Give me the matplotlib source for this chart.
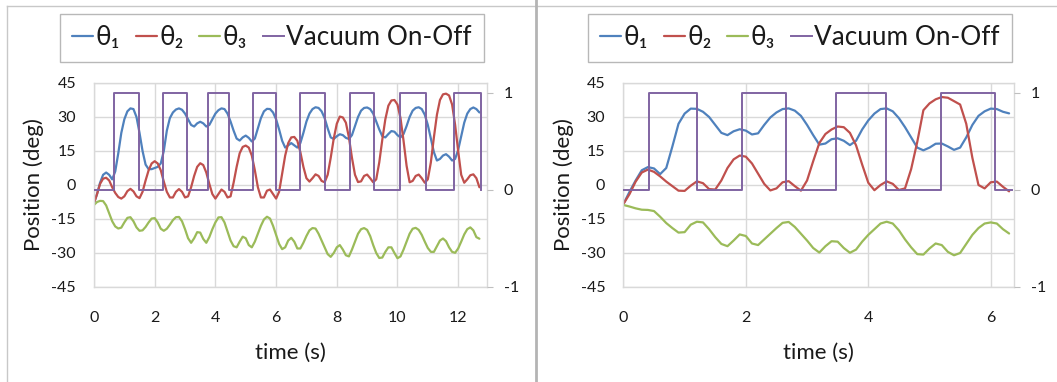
import numpy as np
import matplotlib
matplotlib.use("Agg")
import matplotlib.pyplot as plt
from matplotlib.lines import Line2D

plt.rcParams['font.family'] = ['Lato', 'Noto Sans', 'DejaVu Sans']
plt.rcParams['axes.unicode_minus'] = False

# ---------------- data: fast cycle (sampled every 0.1 s) ----------------
fast_theta1 = [
    -8, -4, 1, 4.5, 5.5, 4.5, 2.5, 6, 14, 23,
    29, 32.5, 33.8, 33.5, 30, 23, 15, 9, 7, 7,
    7.5, 8, 9.5, 15, 24, 29.5, 32, 33.3, 33.8, 33.2,
    31.5, 29, 26.5, 25.8, 27.2, 27.9, 27.2, 25.8, 26.5, 29,
    31.5, 33, 33.8, 33.5, 31.5, 28, 24, 20.5, 19.6, 21,
    21.8, 20.8, 19.2, 20.5, 25, 29.5, 32.5, 33.6, 33.5, 32,
    29, 24.5, 19.5, 16.5, 17.5, 18.5, 17.5, 16.5, 18.5, 23,
    28, 31.5, 33.5, 34.3, 34, 32.5, 29.5, 25, 21, 20.3,
    21.5, 22.4, 22, 20.8, 20.3, 22, 26, 30, 32.8, 34,
    34.2, 33.5, 31.5, 28, 24.5, 21.5, 21, 22.5, 23.8, 23.5,
    22, 21, 22.5, 26, 30, 32.8, 34, 34.3, 33.5, 31,
    26.5, 20.5, 14.5, 10.8, 11.5, 13, 13.6, 12.5, 10.8, 11.5,
    15.5, 21.5, 27.5, 31.5, 33.5, 34.2, 33.5, 32,
]
fast_theta2 = [
    -8, -4, 0.5, 2.8, 3.2, 2, -1, -3.5, -5.3, -6,
    -5, -2.7, -1.7, -2.8, -5, -5.8, -3, 2, 6.5, 9.5,
    10.5, 9.5, 6.5, 1.5, -3, -5.5, -5.5, -3, -1.8, -3,
    -5.5, -5, -1, 4, 8, 9.6, 8.8, 5.5, 0.5, -4,
    -6, -4, -2, -3, -5.5, -5, 1, 8, 14, 16.8,
    17.4, 16.5, 13, 6.5, -1, -5.5, -5.5, -2.5, -2, -4,
    -6, -3, 5, 13, 18.5, 21, 21.2, 19.5, 14.5, 8,
    3, 1.5, 3, 4.7, 4, 1.8, 1.2, 4.5, 12, 20.5,
    27, 30.2, 29.8, 27.5, 21, 12, 4.5, 1.3, 1.6, 4,
    4.6, 3, 1.2, 2.5, 10, 20, 29, 35, 37.3, 37.5,
    35.5, 29.5, 19.5, 8.5, 1.2, 1.8, 4, 4.6, 3, 1,
    2.5, 10, 21, 31, 37.5, 40, 40.3, 39.5, 35.5, 26.5,
    15, 4.5, 1, 2.5, 4.3, 4.7, 3, -1,
]
fast_theta3 = [
    -8.8, -7.5, -7, -7.1, -9, -12.5, -16, -18.3, -19.2, -18.8,
    -16.5, -14.5, -14.2, -16, -18.7, -20.2, -20, -18.5, -16.5, -14.8,
    -14.6, -16.5, -19.3, -20.2, -19.3, -17.5, -15.5, -14.2, -14.1, -16,
    -19.5, -23.5, -25.5, -23.5, -20.8, -21, -23.8, -25.5, -23, -19.5,
    -16.5, -14.3, -14.2, -16.5, -20.5, -24.5, -27, -27.5, -25, -22.8,
    -23.5, -26.5, -27.5, -25, -21.5, -18, -15.2, -14, -14.8, -18,
    -22, -26, -28.3, -27.5, -24.5, -23.3, -25, -28, -28, -25.5,
    -22.5, -20, -19, -19.2, -21.5, -24.5, -27.5, -30.5, -31.7, -30,
    -27.5, -26.5, -28.5, -31, -31.5, -28.5, -25, -21.5, -19.5, -19,
    -19.8, -22.5, -26.5, -30, -32.2, -32, -29.5, -27.5, -27.5, -30,
    -32.3, -31.5, -28.5, -25, -21.5, -19.3, -18.9, -19.8, -22, -25,
    -27.8, -29.5, -29.5, -27, -24.5, -23.6, -24.8, -27.5, -29.5, -29.9,
    -28, -25, -21.8, -19.5, -18.7, -20, -23, -23.7,
]
fast_vac_t = [0, 0.67, 1.48, 2.27, 3.06, 3.76, 4.45, 5.24, 6.01,
              6.80, 7.61, 8.42, 9.24, 10.09, 10.95, 11.85, 12.74]
fast_vac = [0, 1, 0, 1, 0, 1, 0, 1, 0, 1, 0, 1, 0, 1, 0, 1, 0]

# ---------------- data: slow cycle (sampled every 0.1 s) ----------------
slow_theta1 = [
    -8.4, -3, 2, 6.5, 7.9, 7.3, 4.8, 7.5, 17, 27,
    31.5, 33.7, 33.6, 32.3, 30, 26.5, 23, 22, 23.7, 24.6,
    24, 22.3, 22.8, 26.5, 29.8, 32, 33.5, 33.8, 32.8, 30.5,
    26.5, 22, 17.8, 18.3, 20.2, 20.6, 19.5, 17.6, 19.5, 24.5,
    28.5, 31.5, 33.5, 33.8, 32.5, 29.5, 25.5, 21, 16.5, 15.3,
    16.5, 18.2, 18.3, 17, 15.5, 16.5, 21, 26.5, 30.5, 32.5,
    33.7, 33.5, 32.3, 31.6,
]
slow_theta2 = [
    -8.4, -4, 1.5, 5.5, 6.8, 5.8, 3.8, 1.5, -0.5, -2.5,
    -2.6, -0.3, 1.6, 0.8, -1.8, -2, 2, 7.5, 11.3, 13,
    12.5, 9.5, 5, 0.5, -2.4, -1.5, 1.2, 1.7, -0.5, -2.5,
    2, 10.5, 18.5, 22.5, 24.5, 25.8, 25.5, 23, 17.5, 9,
    1, -2.3, 0, 1.6, 0.5, -2.2, -1.5, 7, 19, 33,
    36, 37.8, 38.8, 38.5, 37, 35.5, 27, 12, 0, -1.5,
    1.2, 1.5, -0.8, -2.8,
]
slow_theta3 = [
    -8.8, -9.5, -10.3, -10.9, -11, -11.5, -14, -16.8, -19, -21,
    -20.8, -17.5, -16.2, -16.5, -19.5, -23, -26, -27, -24.5, -21.8,
    -22.5, -25.8, -26.5, -24, -21.5, -19, -16.7, -16.3, -18.5, -21.5,
    -24.5, -27.8, -29.8, -27, -24.8, -25, -27.8, -29.9, -28.5, -25,
    -22, -19.5, -17, -16.2, -17, -20, -24, -27.5, -30.5, -30.7,
    -28, -25.8, -26.5, -29.5, -31, -30, -26, -22, -19, -17,
    -16.5, -17, -19.5, -21.4,
]
slow_vac_t = [0, 0.41, 1.21, 1.93, 2.65, 3.48, 4.29, 5.18, 6.07, 6.35]
slow_vac = [0, 1, 0, 1, 0, 1, 0, 1, 0, 0]

series_labels = ['θ₁', 'θ₂', 'θ₃', 'Vacuum On-Off']
pos_ticks = [-45, -30, -15, 0, 15, 30, 45]

C_T1, C_T2, C_T3, C_VAC = '#4f81bd', '#c0504d', '#9bbb59', '#8064a2'
GRID = '#d9d9d9'
TXT = '#1a1a1a'

W, H = 1057, 382
fig = plt.figure(figsize=(W / 100, H / 100), dpi=100)

panels = [
    dict(rect=(94, 287, 393, 204), xmax=12.95, xticks=[0, 2, 4, 6, 8, 10, 12],
         th=(fast_theta1, fast_theta2, fast_theta3), vac=(fast_vac_t, fast_vac),
         legend_cx=272),
    dict(rect=(623.4, 287, 390.6, 204), xmax=6.38, xticks=[0, 2, 4, 6],
         th=(slow_theta1, slow_theta2, slow_theta3), vac=(slow_vac_t, slow_vac),
         legend_cx=800),
]

for p in panels:
    x0, ybot, w, h = p['rect']
    ax = fig.add_axes([x0 / W, (H - ybot) / H, w / W, h / H])
    t = np.arange(len(p['th'][0])) * 0.1
    lines = []
    for vals, c in zip(p['th'], (C_T1, C_T2, C_T3)):
        ln, = ax.plot(t, vals, color=c, lw=1.6, solid_capstyle='round')
        lines.append(ln)
    ax.set_xlim(0, p['xmax'])
    ax.set_ylim(-45, 45)
    ax.set_yticks(pos_ticks)
    ax.set_xticks(p['xticks'])
    ax.grid(True, color=GRID, lw=1.0)
    ax.set_axisbelow(True)
    for s in ax.spines.values():
        s.set_color(GRID)
        s.set_linewidth(1.0)
    ax.tick_params(axis='both', length=0, labelsize=11.5, colors=TXT)
    ax.tick_params(axis='y', pad=13)
    ax.tick_params(axis='x', pad=17)
    ax.set_ylabel('Position (deg)', fontsize=16, color=TXT)
    ax.set_xlabel('time (s)', fontsize=16, color=TXT)
    ax.yaxis.set_label_coords(-0.127, 0.5)
    ax.xaxis.set_label_coords(0.5, -0.275)

    ax2 = ax.twinx()
    vt, vv = p['vac']
    lv, = ax2.plot(vt, vv, color=C_VAC, lw=1.4, drawstyle='steps-post')
    ax2.set_ylim(-1, 1.1)
    ax2.set_yticks([-1, 0, 1])
    ax2.tick_params(axis='y', length=4, width=0.8, color='#bfbfbf', direction='out',
                    pad=8, labelsize=11.5, labelcolor=TXT)
    for s in ax2.spines.values():
        s.set_visible(False)
    lines.append(lv)

    leg = fig.legend(lines, series_labels, loc='center',
                     bbox_to_anchor=(p['legend_cx'] / W, 1 - 37.8 / H),
                     ncol=4, frameon=True, fancybox=False, edgecolor='#a6a6a6',
                     fontsize=18.8, handlelength=0.8, handletextpad=0.1,
                     columnspacing=0.6, borderpad=0.45, borderaxespad=0)
    leg.get_frame().set_linewidth(1.0)
    for txt in leg.get_texts():
        txt.set_color(TXT)

# outer frame lines and panel separator
fig.add_artist(Line2D([7 / W, 1], [1 - 6 / H, 1 - 6 / H], color='#c8c8c8', lw=1.0,
                      transform=fig.transFigure))
fig.add_artist(Line2D([7 / W, 7 / W], [0, 1 - 6 / H], color='#c8c8c8', lw=1.0,
                      transform=fig.transFigure))
fig.add_artist(Line2D([536 / W, 536 / W], [0, 1], color='#b4b4b4', lw=2.0,
                      transform=fig.transFigure))

fig.savefig('out.png', dpi=100)
